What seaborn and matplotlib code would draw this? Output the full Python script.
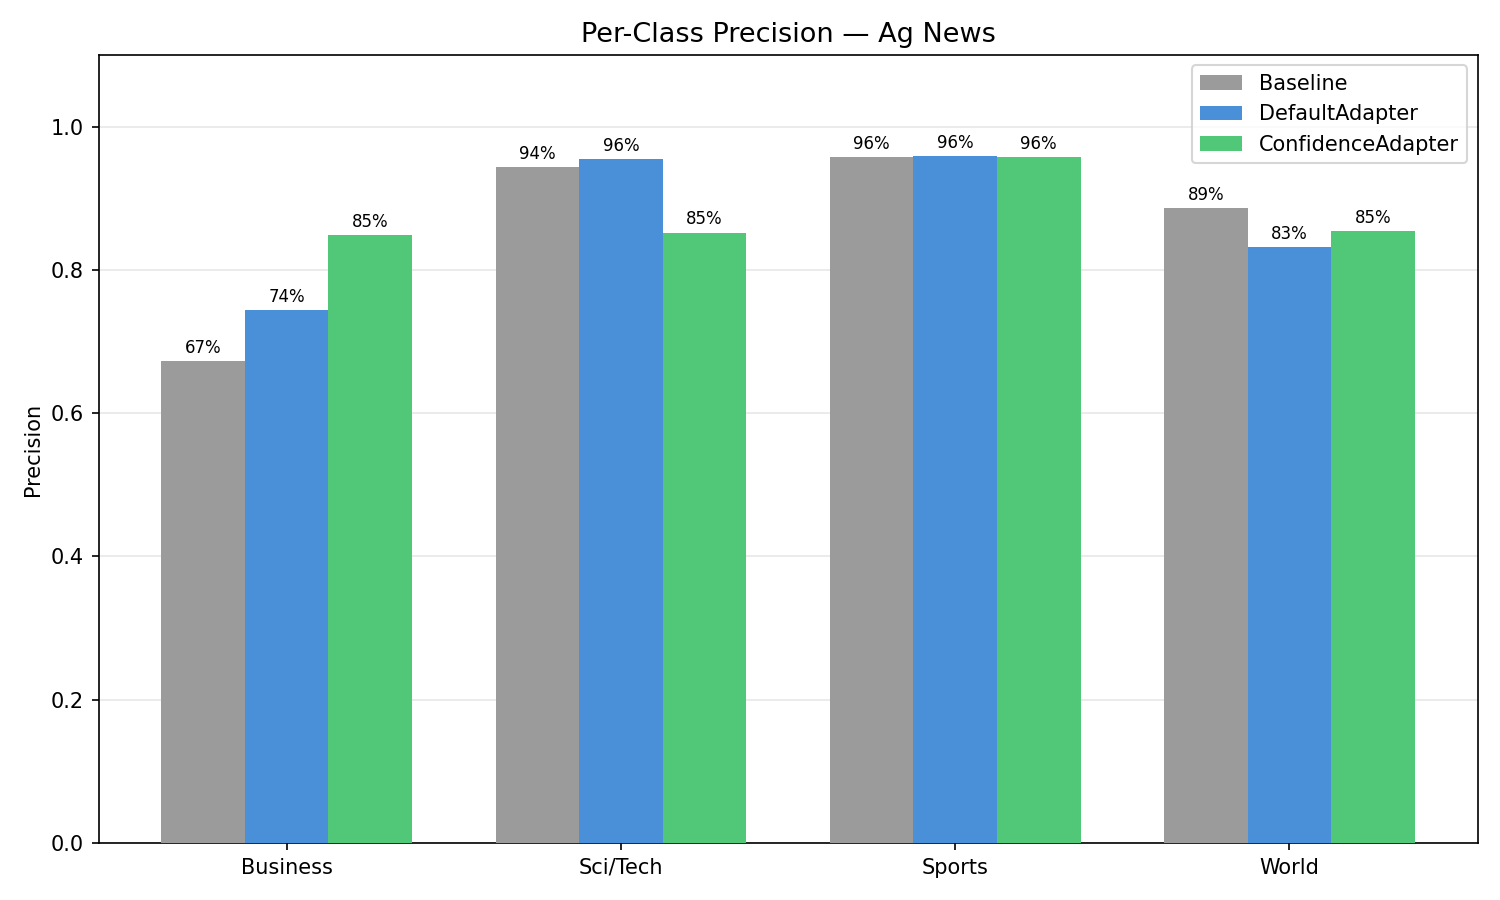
import matplotlib
matplotlib.use("Agg")
import matplotlib.pyplot as plt
import seaborn as sns
import pandas as pd

categories = ["Business", "Sci/Tech", "Sports", "World"]
methods = ["Baseline", "DefaultAdapter", "ConfidenceAdapter"]
baseline = [0.673, 0.943, 0.957, 0.886]
default_adapter = [0.744, 0.955, 0.959, 0.832]
confidence_adapter = [0.849, 0.852, 0.957, 0.854]
colors = ["#9B9B9B", "#4A90D9", "#50C878"]

rows = []
for m, vals in zip(methods, [baseline, default_adapter, confidence_adapter]):
    for c, v in zip(categories, vals):
        rows.append({"Class": c, "Method": m, "Precision": v})
df = pd.DataFrame(rows)

fig, ax = plt.subplots(figsize=(10, 6), dpi=150)
sns.barplot(data=df, x="Class", y="Precision", hue="Method", order=categories,
            hue_order=methods, palette=colors, width=0.75, gap=0, ax=ax,
            saturation=1, errorbar=None, zorder=3)
for cont in ax.containers:
    ax.bar_label(cont, labels=[f"{b.get_height()*100:.0f}%" for b in cont],
                 padding=2, fontsize=8)
n = len(categories)
pad = 0.05 * (n - 1 + 0.75)
ax.set_xlim(-0.375 - pad, n - 1 + 0.375 + pad)
ax.set_ylim(0, 1.1)
ax.set_xlabel("")
ax.set_ylabel("Precision")
ax.set_title("Per-Class Precision — Ag News", fontsize=13)
ax.yaxis.grid(True, alpha=0.3, zorder=0)
ax.set_axisbelow(True)
ax.legend(loc="upper right", title=None)
fig.tight_layout()
fig.savefig("out.png", dpi=150)
